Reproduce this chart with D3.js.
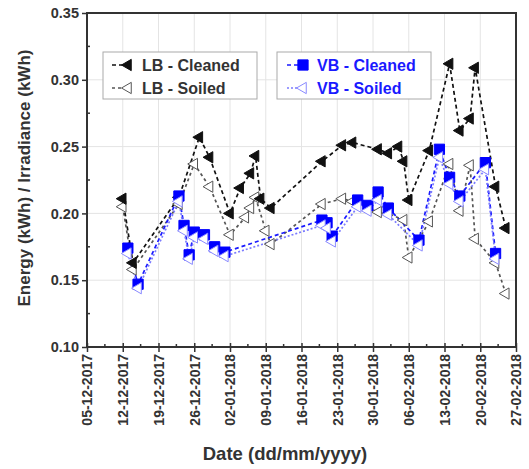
<!DOCTYPE html>
<html>
<head>
<meta charset="utf-8">
<script src="https://cdn.jsdelivr.net/npm/d3@7"></script>
<style>
  body { margin: 0; background: #fff; }
  svg text { font-family: "Liberation Sans", Arial, sans-serif; font-weight: bold; fill: #333; }
</style>
</head>
<body>
<script>
(function () {

    // tick labels (weekly)
    var tickDates = ["2017-12-05", "2017-12-12", "2017-12-19", "2017-12-26", "2018-01-02", "2018-01-09",
        "2018-01-16", "2018-01-23", "2018-01-30", "2018-02-06", "2018-02-13", "2018-02-20", "2018-02-27"];
    var yTicks = [0.10, 0.15, 0.20, 0.25, 0.30, 0.35];

    // LB - Cleaned
    var lbCleanedDates = ["2017-12-12", "2017-12-14", "2017-12-23", "2017-12-27", "2017-12-29", "2018-01-02",
        "2018-01-04", "2018-01-06", "2018-01-07", "2018-01-08", "2018-01-10", "2018-01-20", "2018-01-24",
        "2018-01-26", "2018-01-31", "2018-02-02", "2018-02-04", "2018-02-05", "2018-02-06", "2018-02-10",
        "2018-02-14", "2018-02-16", "2018-02-18", "2018-02-19", "2018-02-23", "2018-02-25"];
    var lbCleaned = [0.211, 0.163, 0.212, 0.257, 0.242, 0.200,
        0.219, 0.230, 0.243, 0.211, 0.204, 0.239, 0.251,
        0.253, 0.248, 0.245, 0.250, 0.239, 0.210, 0.247,
        0.312, 0.262, 0.271, 0.309, 0.220, 0.189];

    // LB - Soiled
    var lbSoiledDates = ["2017-12-12", "2017-12-14", "2017-12-23", "2017-12-26", "2017-12-29", "2018-01-02",
        "2018-01-05", "2018-01-06", "2018-01-07", "2018-01-09", "2018-01-10", "2018-01-20", "2018-01-24",
        "2018-01-26", "2018-01-31", "2018-02-02", "2018-02-05", "2018-02-06", "2018-02-10",
        "2018-02-14", "2018-02-16", "2018-02-18", "2018-02-19", "2018-02-23", "2018-02-25"];
    var lbSoiled = [0.205, 0.158, 0.207, 0.237, 0.220, 0.184,
        0.197, 0.204, 0.212, 0.187, 0.177, 0.207, 0.211,
        0.209, 0.201, 0.200, 0.195, 0.167, 0.194,
        0.237, 0.202, 0.236, 0.181, 0.163, 0.140];

    // VB - Cleaned
    var vbDates = ["2017-12-13", "2017-12-15", "2017-12-23", "2017-12-24", "2017-12-25", "2017-12-26",
        "2017-12-28", "2017-12-30", "2018-01-01", "2018-01-20", "2018-01-21", "2018-01-22", "2018-01-27",
        "2018-01-29", "2018-01-31", "2018-02-02", "2018-02-08", "2018-02-12", "2018-02-14", "2018-02-16",
        "2018-02-21", "2018-02-23"];
    var vbCleaned = [0.174, 0.147, 0.213, 0.191, 0.169, 0.186,
        0.184, 0.175, 0.171, 0.195, 0.193, 0.183, 0.210,
        0.206, 0.216, 0.204, 0.180, 0.248, 0.227, 0.213,
        0.238, 0.170];
    // VB - Soiled
    var vbSoiled = [0.170, 0.144, 0.209, 0.187, 0.166, 0.182,
        0.181, 0.172, 0.168, 0.191, 0.189, 0.179, 0.205,
        0.202, 0.210, 0.199, 0.176, 0.242, 0.222, 0.209,
        0.233, 0.166];

    var W = 529, H = 469;
    var margin = {left: 87, top: 13, right: 13, bottom: 122};
    var width = W - margin.left - margin.right,
        height = H - margin.top - margin.bottom;

    var parse = d3.timeParse("%Y-%m-%d");
    var fmt = d3.timeFormat("%d-%m-%Y");

    var svg = d3.select("body").append("svg")
        .attr("width", W)
        .attr("height", H);

    var g = svg.append("g")
        .attr("transform", "translate(" + margin.left + "," + margin.top + ")");

    var x = d3.scaleTime()
        .domain([parse(tickDates[0]), parse(tickDates[tickDates.length - 1])])
        .range([0, width]);
    var y = d3.scaleLinear()
        .domain([0.10, 0.35])
        .range([height, 0]);

    var xTickVals = tickDates.map(parse);
    var xMinor = xTickVals.slice(0, -1).map(function (d) { return d3.timeHour.offset(d, 84); });
    var yMinor = yTicks.slice(0, -1).map(function (d) { return d + 0.025; });

    // grid
    g.append("g").selectAll("line.vg")
        .data(xTickVals.slice(1, -1))
        .enter().append("line")
        .attr("x1", function (d) { return x(d); })
        .attr("x2", function (d) { return x(d); })
        .attr("y1", 0).attr("y2", height)
        .style("stroke", "#e4e4e4").style("stroke-width", 1);
    g.append("g").selectAll("line.hg")
        .data(yTicks.slice(1, -1))
        .enter().append("line")
        .attr("x1", 0).attr("x2", width)
        .attr("y1", function (d) { return y(d); })
        .attr("y2", function (d) { return y(d); })
        .style("stroke", "#e4e4e4").style("stroke-width", 1);

    function series(dates, vals) {
        return dates.map(function (d, i) { return {date: parse(d), v: vals[i]}; });
    }

    var line = d3.line()
        .x(function (d) { return x(d.date); })
        .y(function (d) { return y(d.v); });

    var triLeft = d3.symbol().type(d3.symbolTriangle).size(55);
    var square = d3.symbol().type(d3.symbolSquare).size(105);

    var sets = [
        {data: series(lbSoiledDates, lbSoiled), stroke: "#555", dash: "3,3", sym: triLeft, fill: "#fff", mstroke: "#555", rot: -90},
        {data: series(lbCleanedDates, lbCleaned), stroke: "#111", dash: "4,3", sym: triLeft, fill: "#111", mstroke: "#111", rot: -90},
        {data: series(vbDates, vbCleaned), stroke: "#1a1aff", dash: "4,3", sym: square, fill: "#0000ff", mstroke: "#0000ff", rot: 0},
        {data: series(vbDates, vbSoiled), stroke: "#7b7bff", dash: "2,2", sym: triLeft, fill: "#fff", mstroke: "#8a8aff", rot: -90}
    ];

    sets.forEach(function (s) {
        g.append("path")
            .datum(s.data)
            .attr("d", line)
            .style("fill", "none")
            .style("stroke", s.stroke)
            .style("stroke-width", 1.7)
            .style("stroke-dasharray", s.dash);
    });
    sets.forEach(function (s) {
        g.append("g").selectAll("path")
            .data(s.data)
            .enter().append("path")
            .attr("d", s.sym)
            .attr("transform", function (d) {
                return "translate(" + x(d.date) + "," + y(d.v) + ") rotate(" + s.rot + ")";
            })
            .style("fill", s.fill)
            .style("stroke", s.mstroke)
            .style("stroke-width", 1);
    });

    // frame
    g.append("rect")
        .attr("width", width).attr("height", height)
        .style("fill", "none").style("stroke", "#333").style("stroke-width", 2);

    // axes
    var yAxis = d3.axisLeft(y).tickValues(yTicks).tickFormat(d3.format(".2f")).tickSize(5).tickPadding(3);
    var ya = g.append("g").attr("class", "axis").call(yAxis);
    ya.select(".domain").remove();
    ya.selectAll("text").style("font-size", "14.5px");
    ya.selectAll("line").style("stroke", "#333").style("stroke-width", 1.5);

    g.append("g").selectAll("line")
        .data(yMinor).enter().append("line")
        .attr("x1", 0).attr("x2", 3)
        .attr("y1", function (d) { return y(d); })
        .attr("y2", function (d) { return y(d); })
        .style("stroke", "#333").style("stroke-width", 1.5);

    var xAxis = d3.axisBottom(x).tickValues(xTickVals).tickFormat(fmt).tickSize(5).tickPadding(3);
    var xa = g.append("g").attr("class", "axis")
        .attr("transform", "translate(0," + height + ")")
        .call(xAxis);
    xa.select(".domain").remove();
    xa.selectAll("line").attr("y1", -4).style("stroke", "#333").style("stroke-width", 1.5);
    xa.selectAll("text")
        .style("font-size", "14px")
        .style("text-anchor", "end")
        .attr("dy", "0.35em")
        .attr("y", 0)
        .attr("x", -7)
        .attr("transform", "rotate(-90)");

    g.append("g").selectAll("line")
        .data(xMinor).enter().append("line")
        .attr("x1", function (d) { return x(d); })
        .attr("x2", function (d) { return x(d); })
        .attr("y1", height).attr("y2", height - 3)
        .style("stroke", "#333").style("stroke-width", 1.5);

    // axis titles
    svg.append("text")
        .attr("transform", "translate(30,178) rotate(-90)")
        .attr("text-anchor", "middle")
        .style("font-size", "17px")
        .text("Energy (kWh) / Irradiance (kWh)");
    svg.append("text")
        .attr("x", 285).attr("y", 460)
        .attr("text-anchor", "middle")
        .style("font-size", "18.5px")
        .text("Date (dd/mm/yyyy)");

    // legends
    function legend(x0, textX, items, color) {
        var lg = g.append("g").attr("transform", "translate(" + x0 + ",39)");
        lg.append("rect")
            .attr("width", 154).attr("height", 47)
            .style("fill", "#fff").style("stroke", "#aaa").style("stroke-width", 1);
        items.forEach(function (it, i) {
            var yy = 13 + i * 23;
            lg.append("line")
                .attr("x1", textX - 30).attr("x2", textX - 14).attr("y1", yy).attr("y2", yy)
                .style("stroke", it.stroke).style("stroke-width", 1.7)
                .style("stroke-dasharray", it.dash);
            lg.append("path")
                .attr("d", it.sym)
                .attr("transform", "translate(" + (textX - 14) + "," + yy + ") rotate(" + it.rot + ")")
                .style("fill", it.fill).style("stroke", it.mstroke);
            lg.append("text")
                .attr("x", textX).attr("y", yy + 6)
                .style("font-size", "16px")
                .style("fill", color)
                .text(it.label);
        });
    }
    legend(16, 39, [
        {label: "LB -  Cleaned", stroke: sets[1].stroke, dash: sets[1].dash, sym: triLeft, fill: sets[1].fill, mstroke: sets[1].mstroke, rot: -90},
        {label: "LB  - Soiled", stroke: sets[0].stroke, dash: sets[0].dash, sym: triLeft, fill: sets[0].fill, mstroke: sets[0].mstroke, rot: -90}
    ], "#333");
    legend(190, 40, [
        {label: "VB -  Cleaned", stroke: sets[2].stroke, dash: sets[2].dash, sym: square, fill: sets[2].fill, mstroke: sets[2].mstroke, rot: 0},
        {label: "VB  - Soiled", stroke: sets[3].stroke, dash: sets[3].dash, sym: triLeft, fill: sets[3].fill, mstroke: sets[3].mstroke, rot: -90}
    ], "#1a1aff");

})();
</script>
</body>
</html>
